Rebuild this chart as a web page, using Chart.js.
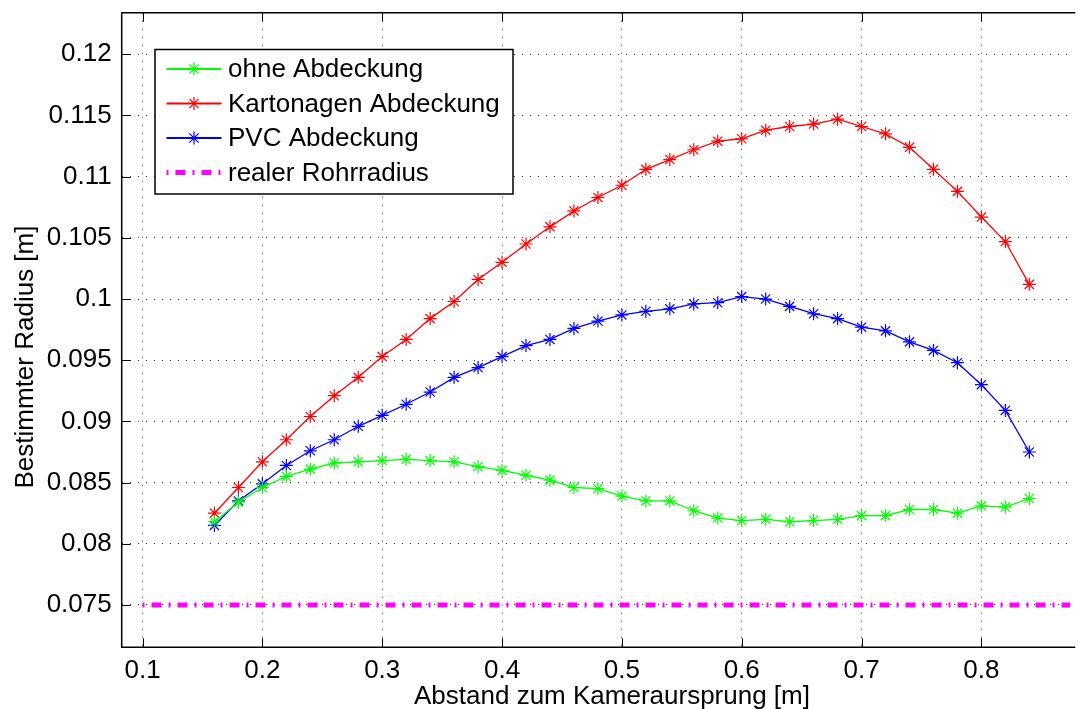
<!DOCTYPE html>
<html>
<head>
<meta charset="utf-8">
<script src="https://cdn.jsdelivr.net/npm/chart.js@4"></script>
<style>
  html, body { margin: 0; padding: 0; background: #fff; overflow: hidden; }
</style>
</head>
<body>
<canvas id="radiusChart" width="1078" height="709"></canvas>
<script>
// Abstand zum Kameraursprung [m]
const abstand = [0.16, 0.18, 0.20, 0.22, 0.24, 0.26, 0.28, 0.30, 0.32, 0.34,
                 0.36, 0.38, 0.40, 0.42, 0.44, 0.46, 0.48, 0.50, 0.52, 0.54,
                 0.56, 0.58, 0.60, 0.62, 0.64, 0.66, 0.68, 0.70, 0.72, 0.74,
                 0.76, 0.78, 0.80, 0.82, 0.84];

const ohneAbdeckung = [0.0818, 0.0834, 0.0846, 0.0855, 0.0861, 0.0866, 0.0867, 0.0868, 0.0869, 0.0868,
                       0.0867, 0.0863, 0.0860, 0.0856, 0.0852, 0.0846, 0.0845, 0.0839, 0.0835, 0.0835,
                       0.0827, 0.0821, 0.0819, 0.0820, 0.0818, 0.0819, 0.0820, 0.0823, 0.0823, 0.0828,
                       0.0828, 0.0825, 0.0831, 0.0830, 0.0837];

const kartonagenAbdeckung = [0.0825, 0.0846, 0.0867, 0.0885, 0.0904, 0.0921, 0.0936, 0.0953, 0.0967, 0.0984,
                             0.0998, 0.1016, 0.1030, 0.1045, 0.1059, 0.1072, 0.1083, 0.1093, 0.1106, 0.1114,
                             0.1122, 0.1129, 0.1131, 0.1138, 0.1141, 0.1143, 0.1147, 0.1141, 0.1135, 0.1124,
                             0.1106, 0.1088, 0.1067, 0.1047, 0.1012];

const pvcAbdeckung = [0.0815, 0.0835, 0.0849, 0.0864, 0.0876, 0.0885, 0.0896, 0.0905, 0.0914, 0.0924,
                      0.0936, 0.0944, 0.0953, 0.0962, 0.0967, 0.0976, 0.0982, 0.0987, 0.0990, 0.0992,
                      0.0996, 0.0997, 0.1002, 0.1000, 0.0994, 0.0988, 0.0984, 0.0977, 0.0974, 0.0965,
                      0.0958, 0.0948, 0.0930, 0.0909, 0.0875];

// realer Rohrradius (horizontal line)
const rohrX = [0.1, 0.9];
const rohrRadius = [0.075, 0.075];

const xTicks = [0.1, 0.2, 0.3, 0.4, 0.5, 0.6, 0.7, 0.8];
const xTickLabels = ['0.1', '0.2', '0.3', '0.4', '0.5', '0.6', '0.7', '0.8'];
const yTicks = [0.075, 0.08, 0.085, 0.09, 0.095, 0.1, 0.105, 0.11, 0.115, 0.12];
const yTickLabels = ['0.075', '0.08', '0.085', '0.09', '0.095', '0.1', '0.105', '0.11', '0.115', '0.12'];

const FONT = '"Liberation Sans", Arial, Helvetica, sans-serif';
Chart.defaults.font.family = FONT;
Chart.defaults.font.size = 26;
Chart.defaults.color = '#000';

function pts(xs, ys) {
  return xs.map((x, i) => ({ x: x, y: ys[i] }));
}

// MATLAB-like frame, inward ticks, legend box and axis titles
const matlabFrame = {
  id: 'matlabFrame',
  afterDraw(chart) {
    const { ctx, chartArea: a, scales: { x, y } } = chart;
    ctx.save();
    ctx.strokeStyle = '#000';
    ctx.lineWidth = 1;
    ctx.setLineDash([]);
    ctx.beginPath();
    xTicks.forEach(v => {
      const px = Math.round(x.getPixelForValue(v)) + 0.5;
      ctx.moveTo(px, a.bottom); ctx.lineTo(px, a.bottom - 9);
      ctx.moveTo(px, a.top); ctx.lineTo(px, a.top + 9);
    });
    yTicks.forEach(v => {
      const py = Math.round(y.getPixelForValue(v)) + 0.5;
      ctx.moveTo(a.left, py); ctx.lineTo(a.left + 9, py);
    });
    ctx.stroke();

    ctx.lineWidth = 1.5;
    ctx.beginPath();
    ctx.moveTo(a.right + 5, a.top);
    ctx.lineTo(a.left, a.top);
    ctx.lineTo(a.left, a.bottom);
    ctx.lineTo(a.right + 5, a.bottom);
    ctx.stroke();

    // legend
    const bx = 155, by = 49.5, bw = 358, bh = 144.5;
    ctx.fillStyle = '#fff';
    ctx.fillRect(bx, by, bw, bh);
    ctx.lineWidth = 1.5;
    ctx.strokeStyle = '#000';
    ctx.strokeRect(bx, by, bw, bh);
    const rows = [69, 103.5, 138, 172.5];
    chart.data.datasets.forEach((ds, i) => {
      const ry = rows[i];
      ctx.save();
      ctx.strokeStyle = ds.borderColor;
      ctx.lineWidth = ds.legendWidth || ds.borderWidth;
      ctx.setLineDash(ds.borderDash || []);
      ctx.beginPath();
      ctx.moveTo(166.5, ry);
      ctx.lineTo(221.5, ry);
      ctx.stroke();
      ctx.setLineDash([]);
      if (ds.pointRadius > 0) {
        ctx.fillStyle = ds.borderColor;
        ctx.lineWidth = ds.pointBorderWidth;
        Chart.helpers.drawPoint(ctx, {
          pointStyle: ds.pointStyle, radius: ds.pointRadius,
          rotation: 0, borderWidth: ds.pointBorderWidth
        }, 194, ry);
      }
      ctx.restore();
      ctx.fillStyle = '#000';
      ctx.font = '26px ' + FONT;
      ctx.textAlign = 'left';
      ctx.textBaseline = 'middle';
      ctx.fillText(ds.label, 228, ry + 1);
    });

    // axis titles
    ctx.fillStyle = '#000';
    ctx.font = '26px ' + FONT;
    ctx.textAlign = 'center';
    ctx.textBaseline = 'alphabetic';
    ctx.fillText('Abstand zum Kameraursprung [m]', 612, 704);
    ctx.save();
    ctx.translate(33, 357);
    ctx.rotate(-Math.PI / 2);
    ctx.fillText('Bestimmter Radius [m]', 0, 0);
    ctx.restore();
    ctx.restore();
  }
};

const seriesStyle = (color) => ({
  borderColor: color,
  backgroundColor: color,
  borderWidth: 1.3,
  legendWidth: 2,
  pointStyle: 'star',
  pointRadius: 6.5,
  pointBorderWidth: 1.2,
  pointBorderColor: color,
  pointBackgroundColor: color,
  tension: 0,
  fill: false
});

const ctx = document.getElementById('radiusChart').getContext('2d');
const radiusChart = new Chart(ctx, {
  type: 'line',
  data: {
    datasets: [
      Object.assign({ label: 'ohne Abdeckung', data: pts(abstand, ohneAbdeckung) }, seriesStyle('#00ff00')),
      Object.assign({ label: 'Kartonagen Abdeckung', data: pts(abstand, kartonagenAbdeckung) }, seriesStyle('#ff0000')),
      Object.assign({ label: 'PVC Abdeckung', data: pts(abstand, pvcAbdeckung) }, seriesStyle('#0000ff')),
      {
        label: 'realer Rohrradius',
        data: pts(rohrX, rohrRadius),
        borderColor: '#ff00ff',
        backgroundColor: '#ff00ff',
        borderWidth: 5,
        borderDash: [2, 7, 10, 7],
        borderCapStyle: 'butt',
        pointRadius: 0,
        pointBorderWidth: 0,
        fill: false
      }
    ]
  },
  options: {
    responsive: false,
    animation: false,
    events: [],
    layout: { padding: { top: 12.7, left: 0, right: 0, bottom: 0 } },
    plugins: { legend: { display: false }, tooltip: { enabled: false } },
    scales: {
      x: {
        type: 'linear',
        min: 0.0826,
        max: 0.8742,
        afterBuildTicks: (ax) => { ax.ticks = xTicks.map(v => ({ value: v })); },
        afterFit: (ax) => { ax.height = 61.7; ax.paddingLeft = 0; ax.paddingRight = 0; },
        ticks: {
          autoSkip: false, maxRotation: 0, padding: 8,
          callback: (v, i) => xTickLabels[i]
        },
        grid: { color: '#333', lineWidth: 1, drawTicks: false },
        border: { display: false, dash: [1, 7] }
      },
      y: {
        type: 'linear',
        min: 0.07154,
        max: 0.1234,
        afterBuildTicks: (ax) => { ax.ticks = yTicks.map(v => ({ value: v })); },
        afterFit: (ax) => { ax.width = 121.7; ax.paddingTop = 0; ax.paddingBottom = 0; },
        ticks: {
          autoSkip: false, padding: 10,
          callback: (v, i) => yTickLabels[i]
        },
        grid: { color: '#333', lineWidth: 1, drawTicks: false },
        border: { display: false, dash: [1, 7] }
      }
    }
  },
  plugins: [matlabFrame]
});
</script>
</body>
</html>
